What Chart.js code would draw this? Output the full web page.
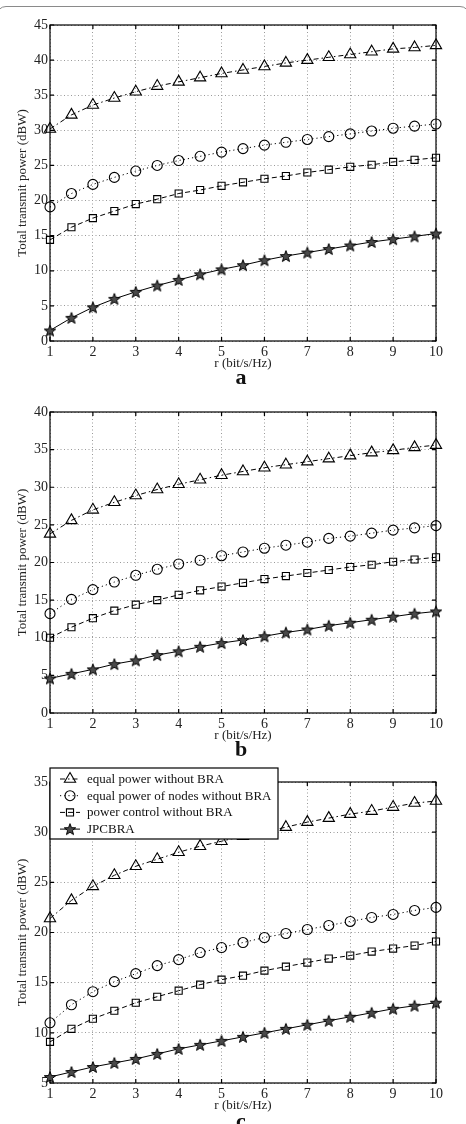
<!DOCTYPE html>
<html>
<head>
<meta charset="utf-8">
<script src="https://cdn.jsdelivr.net/npm/chart.js@4.4.1/dist/chart.umd.min.js"></script>
<style>
  html, body { margin: 0; padding: 0; background: #fff; }
  body { width: 466px; height: 1124px; position: relative; overflow: hidden; }
  .frame { position: absolute; left: -4px; top: 6px; width: 474px; height: 1300px;
           border: 1px solid #8a8a8a; border-radius: 10px; box-sizing: border-box; }
  .panel { position: absolute; left: 0; width: 466px; }
  .tag { position: absolute; left: 0; width: 482px; text-align: center;
         font: bold 22px "Liberation Serif", serif; color: #111; line-height: 22px; }
</style>
</head>
<body>
<div class="frame"></div>
<div class="panel" style="top:0;height:375px"><canvas id="chart-a" width="466" height="375"></canvas></div>
<div class="tag" style="top:366px">a</div>
<div class="panel" style="top:387px;height:360px"><canvas id="chart-b" width="466" height="360"></canvas></div>
<div class="tag" style="top:738px">b</div>
<div class="panel" style="top:757px;height:360px"><canvas id="chart-c" width="466" height="360"></canvas></div>
<div class="tag" style="top:1110px">c</div>
<script>
// x values (rate, bit/s/Hz)
const rates = [1, 1.5, 2, 2.5, 3, 3.5, 4, 4.5, 5, 5.5, 6, 6.5, 7, 7.5, 8, 8.5, 9, 9.5, 10];
const xTicks = [1, 2, 3, 4, 5, 6, 7, 8, 9, 10];
const seriesNames = ['equal power without BRA', 'equal power of nodes without BRA',
                     'power control without BRA', 'JPCBRA'];

// panel a
const aEqualPower = [30.2, 32.2, 33.6, 34.6, 35.5, 36.3, 36.9, 37.5, 38.1, 38.6, 39.1, 39.6, 40.0, 40.4, 40.8, 41.2, 41.6, 41.8, 42.1];
const aEqualNodes = [19.1, 21.0, 22.3, 23.3, 24.2, 25.0, 25.7, 26.3, 26.9, 27.4, 27.9, 28.3, 28.7, 29.1, 29.5, 29.9, 30.3, 30.6, 30.9];
const aPowerControl = [14.4, 16.2, 17.5, 18.5, 19.5, 20.2, 21.0, 21.5, 22.1, 22.6, 23.1, 23.5, 24.0, 24.4, 24.8, 25.1, 25.5, 25.8, 26.1];
const aJpcbra = [1.5, 3.3, 4.8, 6.0, 7.0, 7.9, 8.7, 9.5, 10.2, 10.8, 11.5, 12.1, 12.6, 13.1, 13.6, 14.1, 14.5, 14.9, 15.3];
const aYTicks = [0, 5, 10, 15, 20, 25, 30, 35, 40, 45];

// panel b
const bEqualPower = [23.8, 25.6, 27.0, 28.0, 28.9, 29.7, 30.4, 31.0, 31.6, 32.1, 32.6, 33.0, 33.4, 33.8, 34.2, 34.6, 34.9, 35.3, 35.6];
const bEqualNodes = [13.2, 15.1, 16.4, 17.4, 18.3, 19.1, 19.8, 20.3, 20.9, 21.4, 21.9, 22.3, 22.7, 23.2, 23.5, 23.9, 24.3, 24.6, 24.9];
const bPowerControl = [10.0, 11.4, 12.6, 13.6, 14.4, 15.0, 15.7, 16.3, 16.8, 17.3, 17.8, 18.2, 18.6, 19.0, 19.4, 19.7, 20.1, 20.4, 20.7];
const bJpcbra = [4.6, 5.2, 5.8, 6.5, 7.0, 7.7, 8.2, 8.8, 9.3, 9.7, 10.2, 10.7, 11.1, 11.6, 12.0, 12.4, 12.8, 13.2, 13.5];
const bYTicks = [0, 5, 10, 15, 20, 25, 30, 35, 40];

// panel c
const cEqualPower = [21.4, 23.2, 24.6, 25.7, 26.6, 27.3, 28.0, 28.6, 29.1, 29.6, 30.0, 30.5, 31.0, 31.4, 31.8, 32.1, 32.5, 32.9, 33.1];
const cEqualNodes = [11.0, 12.8, 14.1, 15.1, 15.9, 16.7, 17.3, 18.0, 18.5, 19.0, 19.5, 19.9, 20.3, 20.7, 21.1, 21.5, 21.8, 22.2, 22.5];
const cPowerControl = [9.1, 10.4, 11.4, 12.2, 13.0, 13.6, 14.2, 14.8, 15.3, 15.7, 16.2, 16.6, 17.0, 17.4, 17.7, 18.1, 18.4, 18.7, 19.1];
const cJpcbra = [5.6, 6.1, 6.6, 7.0, 7.4, 7.9, 8.4, 8.8, 9.2, 9.6, 10.0, 10.4, 10.8, 11.2, 11.6, 12.0, 12.4, 12.7, 13.0];
const cYTicks = [5, 10, 15, 20, 25, 30, 35];

const SERIF = '"Liberation Serif", "DejaVu Serif", serif';

// filled five-point star used as the JPCBRA marker
function starMarker() {
  const c = document.createElement('canvas');
  c.width = 14; c.height = 14;
  const g = c.getContext('2d');
  g.beginPath();
  for (let i = 0; i < 10; i++) {
    const r = i % 2 ? 2.5 : 6;
    const ang = -Math.PI / 2 + i * Math.PI / 5;
    const px = 7 + r * Math.cos(ang), py = 7.6 + r * Math.sin(ang);
    if (i === 0) g.moveTo(px, py); else g.lineTo(px, py);
  }
  g.closePath();
  g.fillStyle = '#4a4a4a';
  g.fill();
  g.lineWidth = 1;
  g.strokeStyle = '#000';
  g.stroke();
  return c;
}
const star = starMarker();

const lineStyles = [
  { pointStyle: 'triangle', pointRadius: 6.5, borderDash: [5, 3, 1.5, 3] },
  { pointStyle: 'circle', pointRadius: 5, borderDash: [1.2, 3] },
  { pointStyle: 'rect', pointRadius: 5, borderDash: [5, 3] },
  { pointStyle: star, pointRadius: 6, borderDash: [] }
];

function makeDatasets(lists) {
  return lists.map((vals, i) => Object.assign({
    label: seriesNames[i],
    data: vals.map((v, k) => ({ x: rates[k], y: v })),
    borderColor: '#000',
    borderWidth: 1,
    pointBorderColor: '#000',
    pointBackgroundColor: 'rgba(0,0,0,0)',
    pointBorderWidth: 1.1,
    pointHoverRadius: 6,
    tension: 0,
    clip: false
  }, lineStyles[i]));
}

// axes box with inward ticks, matlab style
const boxPlugin = {
  id: 'box',
  beforeDatasetsDraw(chart) {
    const { ctx, chartArea: a, scales: { x, y } } = chart;
    ctx.save();
    ctx.strokeStyle = '#000';
    ctx.lineWidth = 1.2;
    ctx.setLineDash([]);
    ctx.strokeRect(a.left, a.top, a.right - a.left, a.bottom - a.top);
    ctx.beginPath();
    x.ticks.forEach(t => {
      const px = x.getPixelForValue(t.value);
      ctx.moveTo(px, a.bottom); ctx.lineTo(px, a.bottom - 4);
      ctx.moveTo(px, a.top); ctx.lineTo(px, a.top + 4);
    });
    y.ticks.forEach(t => {
      const py = y.getPixelForValue(t.value);
      ctx.moveTo(a.left, py); ctx.lineTo(a.left + 4, py);
      ctx.moveTo(a.right, py); ctx.lineTo(a.right - 4, py);
    });
    ctx.stroke();
    ctx.restore();
  }
};

// boxed legend in the upper left of panel c
const boxLegend = {
  id: 'boxLegend',
  afterDraw(chart) {
    const ctx = chart.ctx;
    const left = chart.chartArea.left, top = 11, w = 228, h = 71;
    ctx.save();
    ctx.fillStyle = '#fff';
    ctx.fillRect(left, top, w, h);
    ctx.strokeStyle = '#000';
    ctx.lineWidth = 1.2;
    ctx.setLineDash([]);
    ctx.strokeRect(left, top, w, h);
    chart.data.datasets.forEach((ds, i) => {
      const cy = top + 11 + i * 16.7;
      ctx.save();
      ctx.strokeStyle = '#000';
      ctx.lineWidth = 1;
      ctx.setLineDash(ds.borderDash);
      ctx.beginPath();
      ctx.moveTo(left + 10, cy); ctx.lineTo(left + 30, cy);
      ctx.stroke();
      ctx.setLineDash([]);
      ctx.fillStyle = 'rgba(0,0,0,0)';
      ctx.lineWidth = 1.1;
      Chart.helpers.drawPoint(ctx, { pointStyle: ds.pointStyle, radius: ds.pointRadius, rotation: 0, borderWidth: 1.1 }, left + 20, cy);
      ctx.restore();
      ctx.fillStyle = '#111';
      ctx.font = '13px ' + SERIF;
      ctx.textBaseline = 'middle';
      ctx.fillText(ds.label, left + 37, cy + 0.5);
    });
    ctx.restore();
  }
};

function buildChart(id, lists, yTicks, withLegend) {
  const plugins = [boxPlugin];
  if (withLegend) plugins.push(boxLegend);
  return new Chart(document.getElementById(id), {
    type: 'line',
    data: { datasets: makeDatasets(lists) },
    plugins: plugins,
    options: {
      responsive: false,
      animation: false,
      layout: { padding: { top: 25, right: 30, left: 0, bottom: 0 } },
      plugins: { legend: { display: false }, tooltip: { enabled: false } },
      scales: {
        x: {
          type: 'linear',
          min: xTicks[0],
          max: xTicks[xTicks.length - 1],
          afterFit: s => { s.height = 34; },
          afterBuildTicks: s => { s.ticks = xTicks.map(v => ({ value: v })); },
          grid: { color: '#9a9a9a', lineWidth: 1, drawTicks: false },
          border: { display: false, dash: [1, 2.5] },
          ticks: { color: '#222', font: { family: SERIF, size: 14 }, padding: 3, maxRotation: 0 },
          title: { display: true, text: 'r (bit/s/Hz)', color: '#222',
                   font: { family: SERIF, size: 13 }, padding: { top: 0, bottom: 4 } }
        },
        y: {
          min: yTicks[0],
          max: yTicks[yTicks.length - 1],
          afterFit: s => { s.width = 50; },
          afterBuildTicks: s => { s.ticks = yTicks.map(v => ({ value: v })); },
          grid: { color: '#9a9a9a', lineWidth: 1, drawTicks: false },
          border: { display: false, dash: [1, 2.5] },
          ticks: { color: '#222', font: { family: SERIF, size: 14 }, padding: 2 },
          title: { display: true, text: 'Total transmit power (dBW)', color: '#222',
                   font: { family: SERIF, size: 13 }, padding: { top: 15, bottom: 0 } }
        }
      }
    }
  });
}

buildChart('chart-a', [aEqualPower, aEqualNodes, aPowerControl, aJpcbra], aYTicks, false);
buildChart('chart-b', [bEqualPower, bEqualNodes, bPowerControl, bJpcbra], bYTicks, false);
buildChart('chart-c', [cEqualPower, cEqualNodes, cPowerControl, cJpcbra], cYTicks, true);
</script>
</body>
</html>
